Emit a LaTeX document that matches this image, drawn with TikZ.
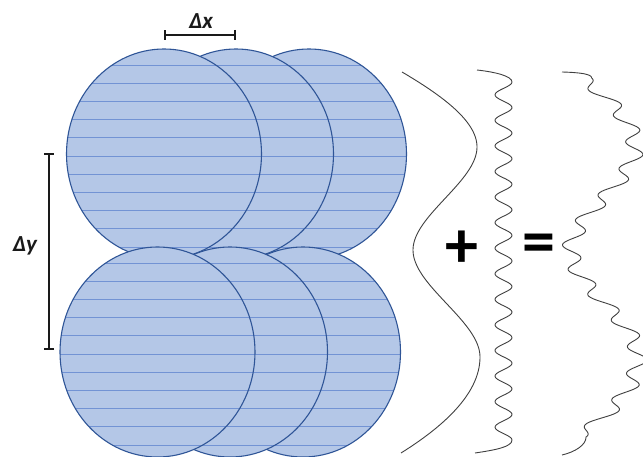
\documentclass[tikz,border=0pt]{standalone}
\usepackage{fontspec}
\setmainfont{Carlito}
\usetikzlibrary{arrows.meta}
\definecolor{ellfillc}{HTML}{B4C7E7}
\definecolor{ellline}{HTML}{2F5597}
\definecolor{hatchc}{RGB}{114,147,212}
\definecolor{curvec}{HTML}{404040}
\definecolor{barc}{HTML}{1A1A1A}
\tikzset{
  ellfill/.style={fill=ellfillc},
  ellborder/.style={draw=ellline,line width=1.1pt},
  hatchline/.style={draw=hatchc,line width=0.9pt},
  curveline/.style={draw=curvec,line width=0.9pt,line join=round},
  dimbar/.style={draw=barc,line width=1.8pt,{Bar[width=10pt,line width=1.8pt]}-{Bar[width=10pt,line width=1.8pt]}},
  dimlabel/.style={font=\fontsize{23}{27}\selectfont\bfseries\itshape,text=barc,inner sep=0pt},
  oplabel/.style={font=\fontsize{66}{70}\selectfont\bfseries,text=black,inner sep=0pt}
}
\newcommand\myhatchell[2]{%
  \fill[ellfill] (#1,#2) ellipse [x radius=97.5, y radius=105];
  \begin{scope}
    \clip (#1,#2) ellipse [x radius=97.5, y radius=105];
    \foreach \k in {-6,...,6}
      \draw[hatchline] ({#1-100},{#2+2+18.2*\k}) -- ({#1+100},{#2+2+18.2*\k});
  \end{scope}
  \draw[ellborder] (#1,#2) ellipse [x radius=97.5, y radius=105];
}
\begin{document}
\begin{tikzpicture}[x=1pt,y=-1pt,
  declare function={
    herm(\hs,\ha,\hb,\hm,\hn)=(2*\hs*\hs*\hs-3*\hs*\hs+1)*\ha+(\hs*\hs*\hs-2*\hs*\hs+\hs)*\hm+(3*\hs*\hs-2*\hs*\hs*\hs)*\hb+(\hs*\hs*\hs-\hs*\hs)*\hn;
    xa(\yy)=herm((\yy-72)/75,402,477,127.5,0);
    xb(\yy)=herm((\yy-147)/103,477,413,0,0);
    xc(\yy)=herm((\yy-250)/107,413,480,0,0);
    xd(\yy)=herm((\yy-357)/96,480,401,0,-153.6);
    wtwo(\yy)=8.5*cos(((\yy-82)/25.57)*360);
    wthree(\yy)=9*cos(((\yy-78)/25.64)*360);
    xthreetop(\yy)=xa(\yy)+158+15*((147-\yy)/75)*((147-\yy)/75)+wthree(\yy);
    xthreebot(\yy)=xd(\yy)+158-8*((\yy-357)/96)*((\yy-357)/96)+wthree(\yy);
  }]
\fill[white] (0,0) rectangle (643,457);
\useasboundingbox (0,0) rectangle (643,457);

% top row (back to front)
\myhatchell{309}{154}
\myhatchell{236}{154}
\myhatchell{164}{154}
% bottom row (back to front)
\myhatchell{303}{352}
\myhatchell{230}{352}
\myhatchell{157.5}{352}

% dimension bars
\coordinate (dxl) at (164,35);
\coordinate (dxr) at (236,35);
\draw[dimbar] (dxl) -- (dxr);
\node[dimlabel] (dxlab) at (201,21) {Δx};
\coordinate (dyt) at (49,153);
\coordinate (dyb) at (49,350);
\draw[dimbar] (dyt) -- (dyb);
\node[dimlabel] (dylab) at (25,246) {Δy};

% curve 1: slow wave
\draw[curveline]
  plot[domain=72:147,samples=40] ({xa(\x)},\x)
  -- plot[domain=147:250,samples=50] ({xb(\x)},\x)
  -- plot[domain=250:357,samples=50] ({xc(\x)},\x)
  -- plot[domain=357:453,samples=45] ({xd(\x)},\x);

% curve 2: fast wiggle
\coordinate (c2s) at (477,70);
\coordinate (c2e) at (475,453);
\draw[curveline] (c2s) .. controls (495,72) and (512,76) .. ({503.5+wtwo(82)},82)
  -- plot[domain=82:440,samples=260] ({503.5+wtwo(\x)},\x)
  .. controls (512,447) and (495,450) .. (c2e);

% curve 3: sum
\coordinate (c3s) at (562,72);
\coordinate (c3e) at (562,455);
\draw[curveline] (c3s) .. controls (580,72.5) and ({xthreetop(78)},74) .. ({xthreetop(78)},78)
  -- plot[domain=78:147,samples=55] ({xthreetop(\x)},\x)
  -- plot[domain=147:250,samples=80] ({xb(\x)+158+wthree(\x)},\x)
  -- plot[domain=250:357,samples=80] ({xc(\x)+158+wthree(\x)},\x)
  -- plot[domain=357:437,samples=60] ({xthreebot(\x)},\x)
  .. controls ({xthreebot(437)},445) and (575,452) .. (c3e);

% operators
\node[oplabel] (plus) at (462,249) {+};
\node[oplabel] (eq) at (538.5,249) {=};
\end{tikzpicture}
\end{document}
